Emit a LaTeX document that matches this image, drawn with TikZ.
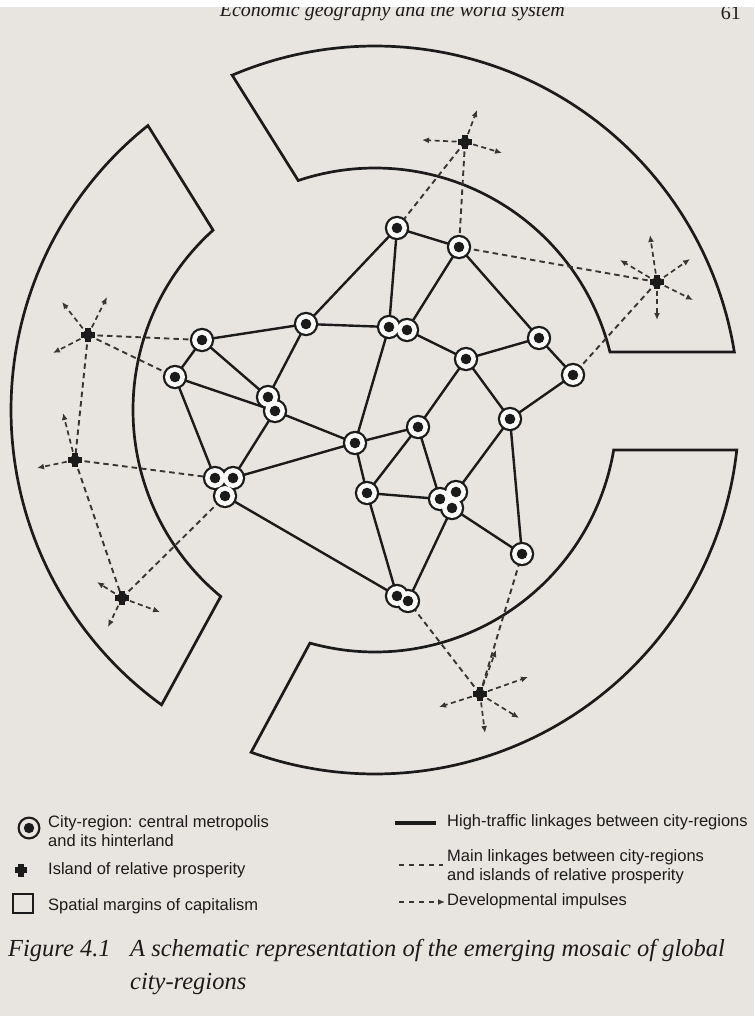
\documentclass[tikz,border=0pt]{standalone}
\usepackage{fontspec}
\setmainfont{Liberation Serif}
\setsansfont{Liberation Sans}
\usetikzlibrary{arrows.meta}
\definecolor{paper}{RGB}{232,229,224}
\definecolor{ink}{RGB}{28,27,27}
\definecolor{dashc}{RGB}{55,54,53}
\begin{document}
\begin{tikzpicture}[x=1pt,y=-1pt,
  link/.style={ink, line width=2.4pt},
  mainlink/.style={dashc, line width=1.9pt, dash pattern=on 5.5pt off 4pt},
  impulse/.style={dashc, line width=1.7pt, dash pattern=on 5pt off 3.5pt, -{Latex[length=7pt,width=6pt]}},
  margin/.style={ink, line width=2.7pt, line join=miter},
  lgd/.style={font=\sffamily\fontsize{16.5}{19}\selectfont, anchor=west, inner sep=0pt, align=left, text=ink},
  captxt/.style={font=\itshape\fontsize{24.5}{30}\selectfont, anchor=base west, inner sep=0pt, text=ink},
]
\fill[paper] (0,0) rectangle (754,1016);
\useasboundingbox (0,0) rectangle (754,1016);

% header
\node[font=\itshape\fontsize{20}{24}\selectfont, anchor=base east, inner sep=0pt, text=ink] (hdr) at (565,17) {Economic geography and the world system};
\node[font=\fontsize{20}{24}\selectfont, anchor=base east, inner sep=0pt, text=ink] (pg) at (741,20) {61};
\fill[white] (0,0) rectangle (754,7);

% spatial margins of capitalism
\draw[margin] (232.2,75.2) -- plot[domain=-108.5:-13.87,samples=90] ({375+242*cos(\x)},{410+242*sin(\x)})
  -- plot[domain=-9.17:-113.1,samples=90] ({375+364*cos(\x)},{410+364*sin(\x)}) -- cycle;
\draw[margin] plot[domain=9.51:105.6,samples=90] ({375+242*cos(\x)},{410+242*sin(\x)})
  -- plot[domain=109.9:6.31,samples=90] ({375+364*cos(\x)},{410+364*sin(\x)}) -- cycle;
\draw[margin] plot[domain=129.6:228,samples=90] ({375+242*cos(\x)},{410+242*sin(\x)})
  -- plot[domain=231.4:125.9,samples=90] ({375+364*cos(\x)},{410+364*sin(\x)}) -- cycle;

% city-regions
\coordinate (N1) at (397,228);
\coordinate (N2) at (459,247);
\coordinate (N3a) at (389,327);
\coordinate (N3b) at (407,330);
\coordinate (N4) at (539,338);
\coordinate (N5) at (466,359);
\coordinate (N6) at (573,375);
\coordinate (N7) at (510,419);
\coordinate (N8) at (418,427);
\coordinate (N9) at (355,443);
\coordinate (N10) at (367,493);
\coordinate (N11a) at (440,499);
\coordinate (N11b) at (456,492);
\coordinate (N11c) at (452,508);
\coordinate (N12) at (522,554);
\coordinate (N13) at (306,324);
\coordinate (L1) at (202,340);
\coordinate (L2) at (175,377);
\coordinate (D1a) at (268,397);
\coordinate (D1b) at (275,411);
\coordinate (T1a) at (215,478);
\coordinate (T1b) at (233,478);
\coordinate (T1c) at (225,496);
\coordinate (D2a) at (397,596);
\coordinate (D2b) at (408,601);

% islands of relative prosperity
\coordinate (A1) at (465,142);
\coordinate (A2) at (657,282);
\coordinate (B1) at (88,335);
\coordinate (B2) at (75,460);
\coordinate (B3) at (122,598);
\coordinate (C1) at (480,694);

% impulse ends
\coordinate (a1a) at (477,110);
\coordinate (a1b) at (422,140);
\coordinate (a1c) at (502,153);
\coordinate (a2a) at (650,235);
\coordinate (a2b) at (620,260);
\coordinate (a2c) at (690,259);
\coordinate (a2d) at (693,300);
\coordinate (a2e) at (657,320);
\coordinate (b1a) at (62,302);
\coordinate (b1b) at (107,297);
\coordinate (b1c) at (53,353);
\coordinate (b2a) at (63,413);
\coordinate (b2b) at (37,468);
\coordinate (b3a) at (97,582);
\coordinate (b3b) at (160,612);
\coordinate (b3c) at (108,627);
\coordinate (c1a) at (496,650);
\coordinate (c1b) at (528,677);
\coordinate (c1c) at (439,707);
\coordinate (c1d) at (519,718);
\coordinate (c1e) at (485,733);

% main linkages
\draw[mainlink] (A1)--(N1) (A1)--(N2) (A2)--(N2) (A2)--(N6)
  (B1)--(L1) (B1)--(L2) (B1)--(B2) (B2)--(T1a) (B2)--(B3) (B3)--(T1c)
  (C1)--(D2b) (C1)--(N12);

% developmental impulses
\foreach \s/\e in {A1/a1a,A1/a1b,A1/a1c,A2/a2a,A2/a2b,A2/a2c,A2/a2d,A2/a2e,
  B1/b1a,B1/b1b,B1/b1c,B2/b2a,B2/b2b,B3/b3a,B3/b3b,B3/b3c,
  C1/c1a,C1/c1b,C1/c1c,C1/c1d,C1/c1e}
  \draw[impulse] (\s) -- (\e);

% high-traffic linkages
\draw[link] (N1)--(N2) (N1)--(N13) (N1)--(N3a) (N2)--(N3b) (N2)--(N4)
  (N13)--(N3a) (N3b)--(N5) (N4)--(N5) (N4)--(N6) (N5)--(N8) (N5)--(N7)
  (N6)--(N7) (N3a)--(N9) (N9)--(N8) (D1b)--(N9) (T1b)--(N9) (N9)--(N10)
  (N8)--(N10) (N8)--(N11a) (N7)--(N11b) (N7)--(N12) (N10)--(N11a)
  (N11c)--(N12) (N10)--(D2a) (N11c)--(D2b) (T1c)--(D2a) (L1)--(N13)
  (L1)--(L2) (L1)--(D1a) (L2)--(D1b) (L2)--(T1a) (N13)--(D1a) (D1b)--(T1b);

% city symbols
\def\cities{N1,N2,N3a,N3b,N4,N5,N6,N7,N8,N9,N10,N11a,N11b,N11c,N12,N13,L1,L2,D1a,D1b,T1a,T1b,T1c,D2a,D2b}
\foreach \p in \cities \fill[ink] (\p) circle[radius=12.2pt];
\foreach \p in \cities \fill[white!80!paper] (\p) circle[radius=9.9pt];
\foreach \p in \cities \fill[ink] (\p) circle[radius=5.3pt];

% island symbols
\foreach \p in {A1,A2,B1,B2,B3,C1} {
  \fill[ink] (\p) ++(-7,-3) rectangle ++(14,6);
  \fill[ink] (\p) ++(-3,-7) rectangle ++(6,14);
  \fill[ink] (\p) circle[radius=5pt];
}

% legend, left
\coordinate (LC) at (29,828);
\fill[ink] (LC) circle[radius=11.5pt];
\fill[paper] (LC) circle[radius=9.2pt];
\fill[ink] (LC) circle[radius=5.2pt];
\node[lgd, anchor=north west] (lt1) at (48,815) {City-region: central metropolis\\and its hinterland};
\coordinate (LI) at (21,870);
\fill[ink] (LI) ++(-6,-2.8) rectangle ++(12,5.6);
\fill[ink] (LI) ++(-2.8,-6.5) rectangle ++(5.6,13);
\fill[ink] (LI) circle[radius=4.5pt];
\node[lgd] (lt2) at (48,870) {Island of relative prosperity};
\draw[ink, line width=2.4pt] (13,894) rectangle (33,913);
\node[lgd] (lt3) at (48,906) {Spatial margins of capitalism};

% legend, right
\coordinate (ls1) at (395,823);
\coordinate (ls2) at (436,823);
\draw[ink, line width=3.2pt] (ls1) -- (ls2);
\node[lgd] (rt1) at (447,822) {High-traffic linkages between city-regions};
\coordinate (ld1) at (399,865);
\coordinate (ld2) at (443,865);
\draw[dashc, line width=2.2pt, dash pattern=on 5pt off 5pt] (ld1) -- (ld2);
\node[lgd, anchor=north west] (rt2) at (447,849) {Main linkages between city-regions\\and islands of relative prosperity};
\coordinate (la1) at (399,902);
\coordinate (la2) at (445,902);
\draw[dashc, line width=2.2pt, dash pattern=on 5pt off 5pt, -{Latex[length=7pt,width=6pt]}] (la1) -- (la2);
\node[lgd] (rt3) at (447,901) {Developmental impulses};

% caption
\node[captxt] (fig) at (8,956) {Figure 4.1};
\node[captxt] (cap1) at (130,956) {A schematic representation of the emerging mosaic of global};
\node[captxt] (cap2) at (130,989) {city-regions};
\end{tikzpicture}
\end{document}
